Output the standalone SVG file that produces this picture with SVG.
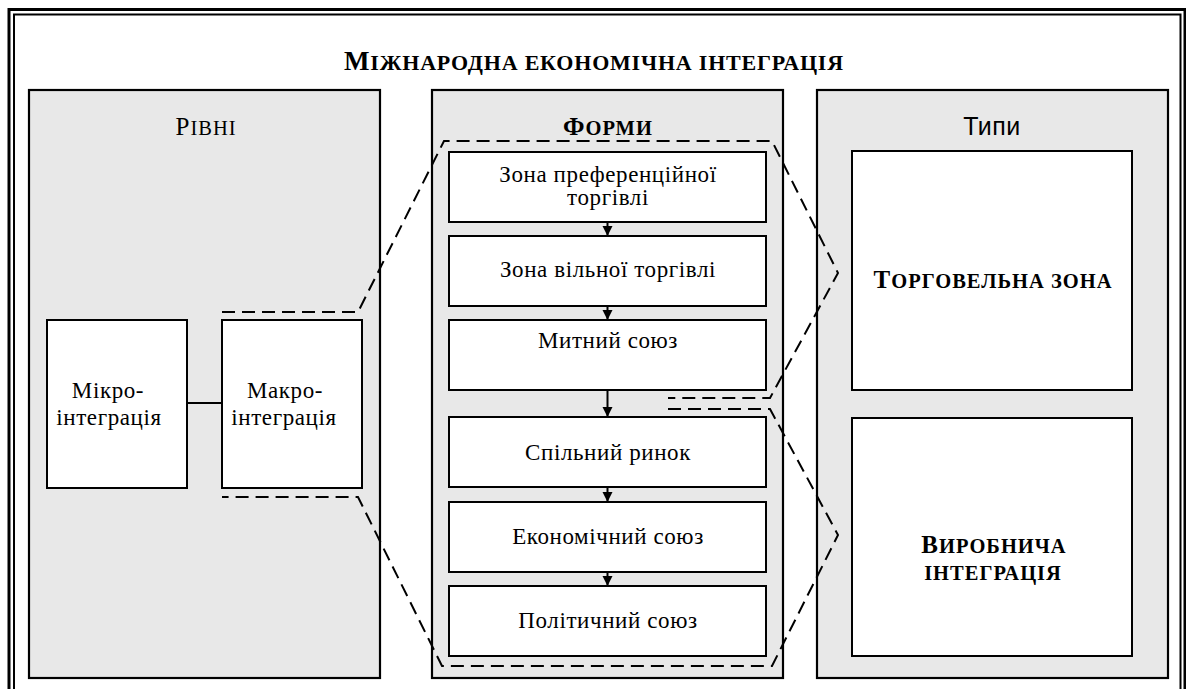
<svg xmlns="http://www.w3.org/2000/svg" width="1186" height="689" viewBox="0 0 1186 689">
<defs>
<style>
.panel{fill:#e8e8e8;stroke:#000;stroke-width:2.2}
.box{fill:#fff;stroke:#000;stroke-width:2}
.t{font-family:"Liberation Serif","Times New Roman",serif;fill:#000;text-anchor:middle;font-size:23px;letter-spacing:0.6px}
.b{font-weight:bold}
.sc{letter-spacing:1px}
.s{font-family:"Liberation Sans",Arial,sans-serif;fill:#000;text-anchor:middle;font-size:25px;letter-spacing:0.5px}
.dash{fill:none;stroke:#000;stroke-width:2;stroke-dasharray:13 7}
.ln{fill:none;stroke:#000;stroke-width:2}
</style>
<marker id="arr" viewBox="0 0 10 12" refX="10" refY="6" markerWidth="10" markerHeight="12" markerUnits="userSpaceOnUse" orient="auto">
<path d="M0,1 L10,6 L0,11 Z" fill="#000"/>
</marker>
</defs>
<rect width="1186" height="689" fill="#fff"/>
<g id="frame">
<path d="M9,700 V9.5 H1200" fill="none" stroke="#000" stroke-width="3"/>
<path d="M1185,9.5 V700" fill="none" stroke="#000" stroke-width="3"/>
<path d="M14,700 V14.5 H1180.5 V700" fill="none" stroke="#000" stroke-width="2"/>
</g>
<g id="title">
<text class="t b" x="594" y="70" style="letter-spacing:0.8px"><tspan font-size="27">М</tspan><tspan font-size="22">ІЖНАРОДНА ЕКОНОМІЧНА ІНТЕГРАЦІЯ</tspan></text>
</g>
<g id="levels">
<rect class="panel" x="29" y="90" width="351" height="588"/>
<text class="t sc" x="206" y="135"><tspan font-size="25">Р</tspan><tspan font-size="20.5">ІВНІ</tspan></text>
</g>
<g id="forms">
<rect class="panel" x="432" y="90" width="351" height="588"/>
<text class="t b sc" x="608" y="135"><tspan font-size="25">Ф</tspan><tspan font-size="20.5">ОРМИ</tspan></text>
</g>
<g id="types">
<rect class="panel" x="817" y="90" width="351" height="588"/>
<text class="s" x="992" y="135">Типи</text>
</g>
<g id="micro">
<rect class="box" x="47" y="320" width="140" height="168"/>
<text class="t" x="108" y="398">Мікро-</text>
<text class="t" x="109" y="425">інтеграція</text>
</g>
<g id="macro">
<rect class="box" x="222" y="320" width="140" height="168"/>
<text class="t" x="285" y="398">Макро-</text>
<text class="t" x="284" y="425">інтеграція</text>
</g>
<g id="f1">
<rect class="box" x="449" y="152" width="317" height="70"/>
<text class="t" x="608" y="182">Зона преференційної</text>
<text class="t" x="608" y="205">торгівлі</text>
</g>
<g id="f2">
<rect class="box" x="449" y="236" width="317" height="70"/>
<text class="t" x="608" y="277">Зона вільної торгівлі</text>
</g>
<g id="f3">
<rect class="box" x="449" y="320" width="317" height="70"/>
<text class="t" x="608" y="348">Митний союз</text>
</g>
<g id="f4">
<rect class="box" x="449" y="417" width="317" height="70"/>
<text class="t" x="608" y="460">Спільний ринок</text>
</g>
<g id="f5">
<rect class="box" x="449" y="502" width="317" height="70"/>
<text class="t" x="608" y="544">Економічний союз</text>
</g>
<g id="f6">
<rect class="box" x="449" y="586" width="317" height="70"/>
<text class="t" x="608" y="628">Політичний союз</text>
</g>
<g id="trade">
<rect class="box" x="852" y="151" width="280" height="239"/>
<text class="t b sc" x="993" y="288"><tspan font-size="25">Т</tspan><tspan font-size="20.5">ОРГОВЕЛЬНА ЗОНА</tspan></text>
</g>
<g id="production">
<rect class="box" x="852" y="418" width="280" height="238"/>
<text class="t b sc" x="994" y="553"><tspan font-size="25">В</tspan><tspan font-size="20.5">ИРОБНИЧА</tspan></text>
<text class="t b sc" x="993" y="580"><tspan font-size="20.5">ІНТЕГРАЦІЯ</tspan></text>
</g>
<g id="connectors">
<line class="ln" x1="187" y1="403" x2="222" y2="403"/>
<line class="ln" x1="607.5" y1="222" x2="607.5" y2="236" marker-end="url(#arr)"/>
<line class="ln" x1="607.5" y1="306" x2="607.5" y2="320" marker-end="url(#arr)"/>
<line class="ln" x1="607.5" y1="390" x2="607.5" y2="417" marker-end="url(#arr)"/>
<line class="ln" x1="607.5" y1="487" x2="607.5" y2="502" marker-end="url(#arr)"/>
<line class="ln" x1="607.5" y1="572" x2="607.5" y2="586" marker-end="url(#arr)"/>
<path class="dash" d="M222,312 H358 L444,141 H772 L838,273 L770,398 H668"/>
<path class="dash" d="M668,409 H770 L838,535 L772,666 H442 L358,497 H222"/>
</g>
</svg>
